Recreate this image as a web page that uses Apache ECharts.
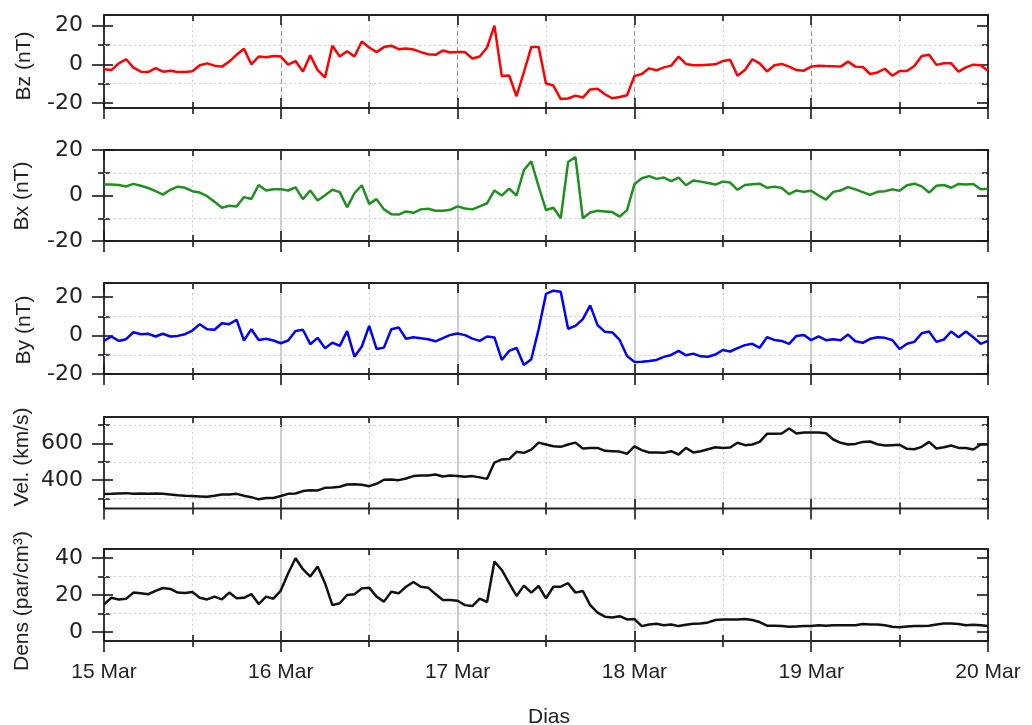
<!DOCTYPE html>
<html><head><meta charset="utf-8">
<script src="https://cdn.jsdelivr.net/npm/echarts@6/dist/echarts.min.js"></script>
<style>html,body{margin:0;padding:0;background:#fff}#c{width:1032px;height:725px}</style>
</head><body><div id="c"></div>
<script>
// ---- data (hourly samples, 15 Mar 00h .. 20 Mar 00h) ----
const dayLabels = ['15 Mar', '16 Mar', '17 Mar', '18 Mar', '19 Mar', '20 Mar'];
const hours = Array.from({length: 121}, (_, i) => i);

const bz = [
  -2.6, -3, 0.5, 2.6, -1.7, -3.8, -4, -2, -3.8, -3.3, -4, -4, -3.6, -0.5, 0.5, -0.7, -1.2, 1.4, 4.9, 8, 0, 4, 3.7, 4.3,
  4, -0.2, 1.7, -3.8, 4.7, -3, -6.8, 9.6, 4, 6.8, 4, 11.8, 8.7, 6.3, 8.9, 9.6, 7.8, 8.2, 7.7, 6.3, 5.2, 4.9, 7.1, 6.1,
  6.4, 6.3, 3, 4, 8.7, 20, -6.1, -5.8, -16.5, -4, 8.9, 9, -9.9, -11, -18, -17.7, -16.2, -17.2, -13, -12.7, -15.5, -17.6, -16.9, -16,
  -6.1, -5, -2.1, -3.1, -1.6, -0.7, 4, 0.2, -0.5, -0.5, -0.2, 0, 1.7, 2.3, -5.9, -3, 2.6, 0.5, -3.7, -0.5, 0.2, -1.2, -3, -3.3,
  -1.2, -0.7, -0.9, -1, -1.2, 1.4, -1.2, -1.4, -5, -4.2, -2.3, -5.9, -3.5, -3.5, -0.9, 4.3, 4.9, -0.3, 0.5, 0.5, -3.8, -1.6, -0.2, -0.5, -3.3
];
const bx = [
  4.8, 4.8, 4.6, 4, 5.1, 4.3, 3.3, 1.9, 0.4, 2.5, 3.9, 3.4, 1.9, 1.3, -0.3, -2.7, -5.4, -4.5, -4.8, -0.7, -1.5, 4.6, 2.2, 2.7,
  2.8, 2.2, 3.6, -1.6, 2.2, -2.2, 0.1, 2.5, 1.5, -5.2, 1, 4.5, -3.7, -1.6, -6.1, -8.2, -8.4, -7, -7.6, -6.1, -5.8, -6.7, -6.7, -6.3,
  -4.8, -5.7, -6.1, -4.8, -3.4, 2.2, 0, 3, 0, 11.2, 15, 4, -6.4, -5.4, -10, 14.7, 16.9, -10, -7.5, -6.7, -7, -7.3, -9.3, -6.4,
  4.9, 7.6, 8.5, 7.3, 7.9, 6.3, 7.9, 4.5, 6.6, 6.1, 5.5, 4.8, 6.1, 5.7, 2.5, 4.6, 4.9, 5.2, 3.4, 3.9, 3.3, 0.6, 2.2, 1.6,
  2.1, 0, -1.8, 1.6, 2.2, 3.7, 2.7, 1.5, 0.3, 1.6, 1.9, 2.7, 2.1, 4.5, 5.2, 4, 1.3, 4.3, 4.6, 3.4, 5.1, 4.8, 5.1, 2.7, 3
];
const by = [
  -2.8, -0.5, -2.8, -1.9, 1.7, 0.7, 0.9, -0.5, 0.9, -0.5, -0.2, 0.7, 2.6, 5.9, 3.3, 3, 6.4, 5.9, 8.2, -2.6, 3.3, -2.3, -1.7, -2.6,
  -4, -2.6, 2.4, 3, -4.5, -1.2, -6.6, -3.7, -5.4, 2.3, -11, -5.7, 5, -7, -6.3, 3.3, 4.2, -1.7, -0.9, -1.4, -1.9, -3, -1.4, 0.3,
  1, 0.2, -1.6, -2.8, -0.5, -1, -12.7, -8, -6.4, -15.3, -12.3, 3.3, 21.6, 23.3, 22.8, 3.5, 5, 8.5, 15.7, 5.4, 1.9, 1.6, -2.3, -10.6,
  -13.7, -13.6, -13.2, -12.7, -11.1, -10.1, -8, -10.3, -9.4, -10.8, -11, -9.9, -7.5, -8.3, -6.6, -5, -4.3, -6.4, -0.9, -2.3, -2.8, -4.3, -0.2, 0.3,
  -2.4, -0.5, -2.4, -1.9, -2.4, 0.5, -3, -3.8, -1.7, -0.9, -1.2, -2.3, -7, -4.3, -3.3, 1.2, 2.1, -3.3, -2.1, 2.1, -0.9, 2.1, -0.9, -4.3, -2.8
];
const vel = [
  324, 325, 327, 329, 325, 327, 325, 327, 325, 322, 318, 315, 313, 311, 309, 315, 322, 322, 325, 315, 307, 295, 302, 302,
  313, 325, 327, 340, 345, 344, 358, 360, 364, 376, 378, 375, 367, 380, 402, 404, 400, 409, 422, 425, 425, 431, 420, 425,
  422, 418, 422, 415, 407, 496, 513, 515, 555, 549, 567, 605, 595, 585, 582, 595, 605, 573, 576, 576, 560, 558, 556, 544,
  585, 564, 551, 551, 549, 558, 540, 576, 551, 558, 569, 580, 576, 578, 604, 591, 595, 609, 653, 653, 655, 682, 655, 660,
  660, 660, 656, 622, 604, 595, 598, 609, 611, 596, 589, 591, 593, 571, 569, 582, 609, 573, 580, 589, 576, 576, 567, 595, 595
];
const dens = [
  14.9, 18.5, 17.6, 18, 21.3, 20.9, 20.4, 22.2, 23.8, 23.3, 21.3, 21.1, 21.6, 18.5, 17.6, 19.1, 17.6, 21.3, 18.2, 18.5, 20.5, 15.1, 19.1, 18,
  22.4, 31.8, 40, 34, 30, 35.5, 26.4, 14.5, 15.5, 20, 20.4, 23.6, 24, 19.1, 16.4, 21.8, 20.9, 24.5, 27.1, 24.5, 24, 20.5, 17.3, 17.3,
  16.9, 14.5, 14, 18, 16.2, 38.2, 33.6, 26.4, 19.5, 25.1, 21.3, 24.9, 18.2, 24.5, 24.5, 26.4, 21.3, 22.2, 14.5, 10.4, 8.2, 7.8, 8.5, 6.7,
  6.9, 3.1, 4, 4.4, 3.6, 4, 3.1, 3.8, 4.4, 4.5, 5.1, 6.4, 6.7, 6.7, 6.7, 6.9, 6.4, 5.3, 3.3, 3.3, 3.1, 2.7, 2.9, 3.1,
  3.1, 3.5, 3.3, 3.5, 3.5, 3.6, 3.6, 4.2, 4, 4, 3.6, 2.7, 2.5, 2.9, 3.1, 3.1, 3.3, 4, 4.5, 4.5, 4.2, 3.6, 3.8, 3.5, 3.1
];

const panelNames = ['Bz (nT)', 'Bx (nT)', 'By (nT)', 'Vel. (km/s)', 'Dens (par/cm³)'];
const majorTicks = [[-20, 0, 20], [-20, 0, 20], [-20, 0, 20], [400, 600], [0, 20, 40]];
const minorTicks = [[-10, 10], [-10, 10], [-10, 10], [300, 500, 700], [10, 30]];
const xAxisName = 'Dias';

// ---- layout / style ----
const seriesValues = [bz, bx, by, vel, dens];
const colors = ['#ff0000', '#1f8f1f', '#0000ff', '#111111', '#111111'];
const tops = [15, 150, 283, 417, 549];
const heights = [93, 91, 91, 91.5, 92];
const yMin = [-22.6, -20, -20, 245, -5];
const yMax = [25.5, 20, 27.3, 745, 45];
const nameCenters = [[24, 66], [22.5, 196], [24, 330], [22, 457], [22, 601]];
const FONT = 'Liberation Sans, Arial, Helvetica, sans-serif';
const YFONT = 'DejaVu Sans, Liberation Sans, Arial, sans-serif';
const tickStyle = {color: '#1a1a1a', width: 1.6};

const grids = [], xAxes = [], yAxes = [], series = [], graphics = [];
for (let i = 0; i < 5; i++) {
  grids.push({left: 104, right: 44, top: tops[i], height: heights[i], show: true,
    borderColor: '#222', borderWidth: 1.8, backgroundColor: 'transparent'});
  const xBase = (extra) => Object.assign({
    type: 'value', gridIndex: i, min: 0, max: 120, interval: 24,
    axisLine: {show: false, onZero: false},
    axisLabel: {show: false}, splitLine: {show: false},
    axisTick: {show: true, length: 11, lineStyle: tickStyle},
    minorTick: {show: true, splitNumber: 2, length: 6, lineStyle: tickStyle}
  }, extra);
  xAxes.push(xBase({
    position: 'bottom',
    axisLabel: {show: i === 4, margin: 21, fontSize: 21, color: '#222', fontFamily: FONT,
      formatter: v => dayLabels[Math.round(v / 24)]},
    splitLine: {show: true, showMinLine: false, showMaxLine: false,
      lineStyle: i === 0 ? {color: '#9a9a9a', width: 1.2, type: [5, 3]} : {color: '#bdbdbd', width: 1.5}},
    minorSplitLine: {show: true, lineStyle: {color: '#d0d0d0', width: 1, type: [2, 3]}}
  }));
  xAxes.push(xBase({position: 'bottom', axisTick: {show: true, inside: true, length: 10, lineStyle: tickStyle}}));
  xAxes.push(xBase({position: 'top', axisTick: {show: true, inside: true, length: 10, lineStyle: tickStyle}}));

  const yBase = (extra) => Object.assign({
    type: 'value', gridIndex: i, min: yMin[i], max: yMax[i],
    axisLine: {show: false, onZero: false}, splitLine: {show: false},
    axisLabel: {show: false}
  }, extra);
  yAxes.push(yBase({position: 'left',
    axisTick: {show: true, length: 12, customValues: majorTicks[i], lineStyle: tickStyle},
    axisLabel: {show: true, customValues: majorTicks[i], margin: 21, fontSize: 22, color: '#222', fontFamily: YFONT}}));
  yAxes.push(yBase({position: 'left',
    axisTick: {show: true, inside: true, length: 9, customValues: majorTicks[i], lineStyle: tickStyle}}));
  yAxes.push(yBase({position: 'left',
    axisTick: {show: true, length: 6, customValues: minorTicks[i], lineStyle: tickStyle}}));
  yAxes.push(yBase({position: 'left',
    axisTick: {show: true, inside: true, length: 6, customValues: minorTicks[i], lineStyle: tickStyle}}));
  yAxes.push(yBase({position: 'right',
    axisTick: {show: true, inside: true, length: 11, customValues: majorTicks[i], lineStyle: tickStyle}}));
  yAxes.push(yBase({position: 'right',
    axisTick: {show: true, inside: true, length: 6, customValues: minorTicks[i], lineStyle: tickStyle}}));

  // horizontal dotted grid lines at the minor tick values
  series.push({type: 'line', xAxisIndex: 3 * i, yAxisIndex: 6 * i, data: [], z: 1, silent: true,
    markLine: {silent: true, symbol: 'none', label: {show: false}, animation: false,
      lineStyle: {color: '#cfcfcf', width: 1, type: [2, 3]},
      data: minorTicks[i].map(v => ({yAxis: v}))}});
  series.push({type: 'line', xAxisIndex: 3 * i, yAxisIndex: 6 * i, z: 5,
    data: hours.map((h, k) => [h, seriesValues[i][k]]),
    showSymbol: false, symbol: 'none', smooth: false,
    lineStyle: {color: colors[i], width: 2.5}, itemStyle: {color: colors[i]}});

  graphics.push({type: 'text', x: nameCenters[i][0], y: nameCenters[i][1], rotation: Math.PI / 2,
    style: {text: panelNames[i], fontSize: 21, fontFamily: FONT, fill: '#222', align: 'center', verticalAlign: 'middle'}});
}
graphics.push({type: 'text', x: 549, y: 717,
  style: {text: xAxisName, fontSize: 21, fontFamily: FONT, fill: '#222', align: 'center', verticalAlign: 'middle'}});

const chart = echarts.init(document.getElementById('c'), null, {renderer: 'canvas'});
chart.setOption({
  animation: false,
  backgroundColor: '#fff',
  grid: grids, xAxis: xAxes, yAxis: yAxes, series: series, graphic: graphics
});
</script></body></html>
